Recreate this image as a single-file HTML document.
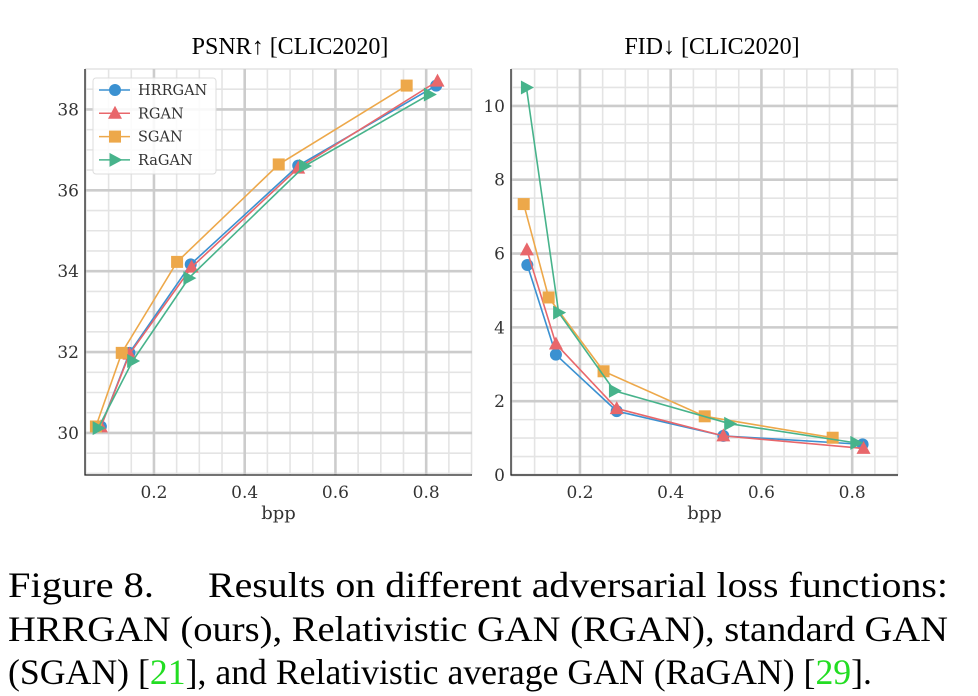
<!DOCTYPE html>
<html><head><meta charset="utf-8"><style>
html,body{margin:0;padding:0;background:#fff;}
svg{display:block;}
</style></head><body>
<svg id="fig" width="978" height="696" viewBox="0 0 978 696" xmlns="http://www.w3.org/2000/svg" font-family="'DejaVu Serif','Liberation Serif',serif">
<g id="left"></g>
<g id="right"></g>
<g font-family="'Liberation Serif',serif" font-size="36" fill="#000">
<text x="8" y="597" textLength="146" lengthAdjust="spacingAndGlyphs">Figure 8.</text>
<text x="208" y="597" textLength="740" lengthAdjust="spacingAndGlyphs">Results on different adversarial loss functions:</text>
<text x="8" y="641" textLength="940" lengthAdjust="spacingAndGlyphs">HRRGAN (ours), Relativistic GAN (RGAN), standard GAN</text>
<text x="8" y="684" textLength="864" lengthAdjust="spacingAndGlyphs">(SGAN) [<tspan fill="#22dd22">21</tspan>], and Relativistic average GAN (RaGAN) [<tspan fill="#22dd22">29</tspan>].</text>
</g>
</svg>
<script>
const seriesNames = ["HRRGAN","RGAN","SGAN","RaGAN"];
const seriesColors = ["#3b91d1","#e8676b","#eda84a","#47b38b"];
const seriesMarkers = ["circle","triangle","square","right"];
const xTickLabels = ["0.2","0.4","0.6","0.8"];
const psnrTicks = ["30","32","34","36","38"];
const fidTicks = ["0","2","4","6","8","10"];
const psnrX_HRRGAN = [0.083,0.146,0.281,0.518,0.822];
const psnrY_HRRGAN = [30.16,31.98,34.17,36.61,38.59];
const psnrX_RGAN = [0.083,0.146,0.283,0.518,0.825];
const psnrY_RGAN = [30.15,31.95,34.1,36.55,38.7];
const psnrX_SGAN = [0.072,0.129,0.251,0.475,0.757];
const psnrY_SGAN = [30.16,31.98,34.23,36.64,38.59];
const psnrX_RaGAN = [0.077,0.153,0.277,0.532,0.807];
const psnrY_RaGAN = [30.12,31.78,33.83,36.6,38.37];
const fidX_HRRGAN = [0.084,0.147,0.281,0.516,0.823];
const fidY_HRRGAN = [5.69,3.26,1.73,1.06,0.83];
const fidX_RGAN = [0.083,0.147,0.281,0.516,0.825];
const fidY_RGAN = [6.1,3.55,1.8,1.06,0.72];
const fidX_SGAN = [0.076,0.131,0.252,0.475,0.757];
const fidY_SGAN = [7.34,4.81,2.81,1.59,1.01];
const fidX_RaGAN = [0.082,0.153,0.276,0.530,0.808];
const fidY_RaGAN = [10.5,4.4,2.28,1.39,0.87];

const NS="http://www.w3.org/2000/svg";
function mk(tag,attrs,parent){const e=document.createElementNS(NS,tag);for(const k in attrs)e.setAttribute(k,attrs[k]);parent.appendChild(e);return e;}

function drawChart(g,cfg){
  const {x0,x1,y0,y1,xmin,xmax,ymin,ymax,yTicks,yMinorStep,xs,ys,title,tcx,legend}=cfg;
  const sx=v=>x0+(v-xmin)/(xmax-xmin)*(x1-x0);
  const sy=v=>y1-(v-ymin)/(ymax-ymin)*(y1-y0);
  mk('rect',{x:x0,y:y0,width:x1-x0,height:y1-y0,fill:'#fff'},g);
  for(let v=0.05;v<xmax;v+=0.05){if(v<xmin)continue;const l=mk('line',{x1:sx(v),x2:sx(v),y1:y0,y2:y1,stroke:'#e4e4e4','stroke-width':1.6},g);}
  for(let v=Math.ceil(ymin/yMinorStep)*yMinorStep;v<=ymax;v+=yMinorStep){const l=mk('line',{x1:x0,x2:x1,y1:sy(v),y2:sy(v),stroke:'#e4e4e4','stroke-width':1.6},g);}
  xTickLabels.forEach(t=>{const v=parseFloat(t);
    const l=mk('line',{x1:sx(v),x2:sx(v),y1:y0,y2:y1,stroke:'#cccccc','stroke-width':2.6},g);
    
    const tx=mk('text',{x:sx(v),y:y1+23,'text-anchor':'middle','font-size':17,fill:'#333'},g);tx.textContent=t;
    });
  yTicks.forEach(t=>{const v=parseFloat(t);
    const l=mk('line',{x1:x0,x2:x1,y1:sy(v),y2:sy(v),stroke:'#cccccc','stroke-width':2.6},g);
    
    const tx=mk('text',{x:x0-6,y:sy(v)+6,'text-anchor':'end','font-size':17,fill:'#333'},g);tx.textContent=t;
    });
  const sp=mk('path',{d:`M${x0},${y0}V${y1}H${x1}`,fill:'none',stroke:'#222','stroke-width':1.3},g);
  
  seriesNames.forEach((n,i)=>{
    const X=xs[i],Y=ys[i],c=seriesColors[i];
    const pts=X.map((v,j)=>sx(v)+','+sy(Y[j])).join(' ');
    const pl=mk('polyline',{points:pts,fill:'none',stroke:c,'stroke-width':1.6},g);
    
    X.forEach((v,j)=>{const m=marker(g,seriesMarkers[i],sx(v),sy(Y[j]),c);
      });
  });
  const tt=mk('text',{x:tcx,y:54,'text-anchor':'middle','font-size':24,'font-family':"'Liberation Serif',serif",fill:'#000'},g);
  tt.textContent=title;
  const xl=mk('text',{x:(x0+x1)/2,y:y1+44,'text-anchor':'middle','font-size':18,fill:'#333'},g);
  xl.textContent='bpp';
  if(legend){
    const lg=mk('g',{},g);
    mk('rect',{x:93,y:78,width:123,height:96,rx:3,fill:'#fff','fill-opacity':0.85,stroke:'#ddd'},lg);
    seriesNames.forEach((n,i)=>{const yy=90+i*23.3;
      const e=mk('g',{},lg);
      mk('line',{x1:99,x2:130,y1:yy,y2:yy,stroke:seriesColors[i],'stroke-width':1.5},e);
      marker(e,seriesMarkers[i],115,yy,seriesColors[i]);
      const t=mk('text',{x:138,y:yy+5,'font-size':14.5,fill:'#333'},e);t.textContent=n;});
  }
}
function marker(g,type,x,y,c){
  if(type==='circle')return mk('circle',{cx:x,cy:y,r:6,fill:c},g);
  if(type==='square')return mk('rect',{x:x-6,y:y-6,width:12,height:12,fill:c},g);
  if(type==='triangle')return mk('polygon',{points:`${x},${y-7.5} ${x-7},${y+5.5} ${x+7},${y+5.5}`,fill:c},g);
  return mk('polygon',{points:`${x+7.5},${y} ${x-5.5},${y-7} ${x-5.5},${y+7}`,fill:c},g);
}
drawChart(document.getElementById('left'),{x0:85,x1:472,y0:69,y1:475,xmin:0.048,xmax:0.901,ymin:28.96,ymax:39.0,
  yTicks:psnrTicks,yMinorStep:0.5,
  xs:[psnrX_HRRGAN,psnrX_RGAN,psnrX_SGAN,psnrX_RaGAN],ys:[psnrY_HRRGAN,psnrY_RGAN,psnrY_SGAN,psnrY_RaGAN],
  title:'PSNR↑ [CLIC2020]',tcx:290,legend:true});
drawChart(document.getElementById('right'),{x0:511,x1:898,y0:69,y1:475,xmin:0.048,xmax:0.901,ymin:0,ymax:11.0,
  yTicks:fidTicks,yMinorStep:0.5,
  xs:[fidX_HRRGAN,fidX_RGAN,fidX_SGAN,fidX_RaGAN],ys:[fidY_HRRGAN,fidY_RGAN,fidY_SGAN,fidY_RaGAN],
  title:'FID↓ [CLIC2020]',tcx:712,legend:false});
</script>
</body></html>
